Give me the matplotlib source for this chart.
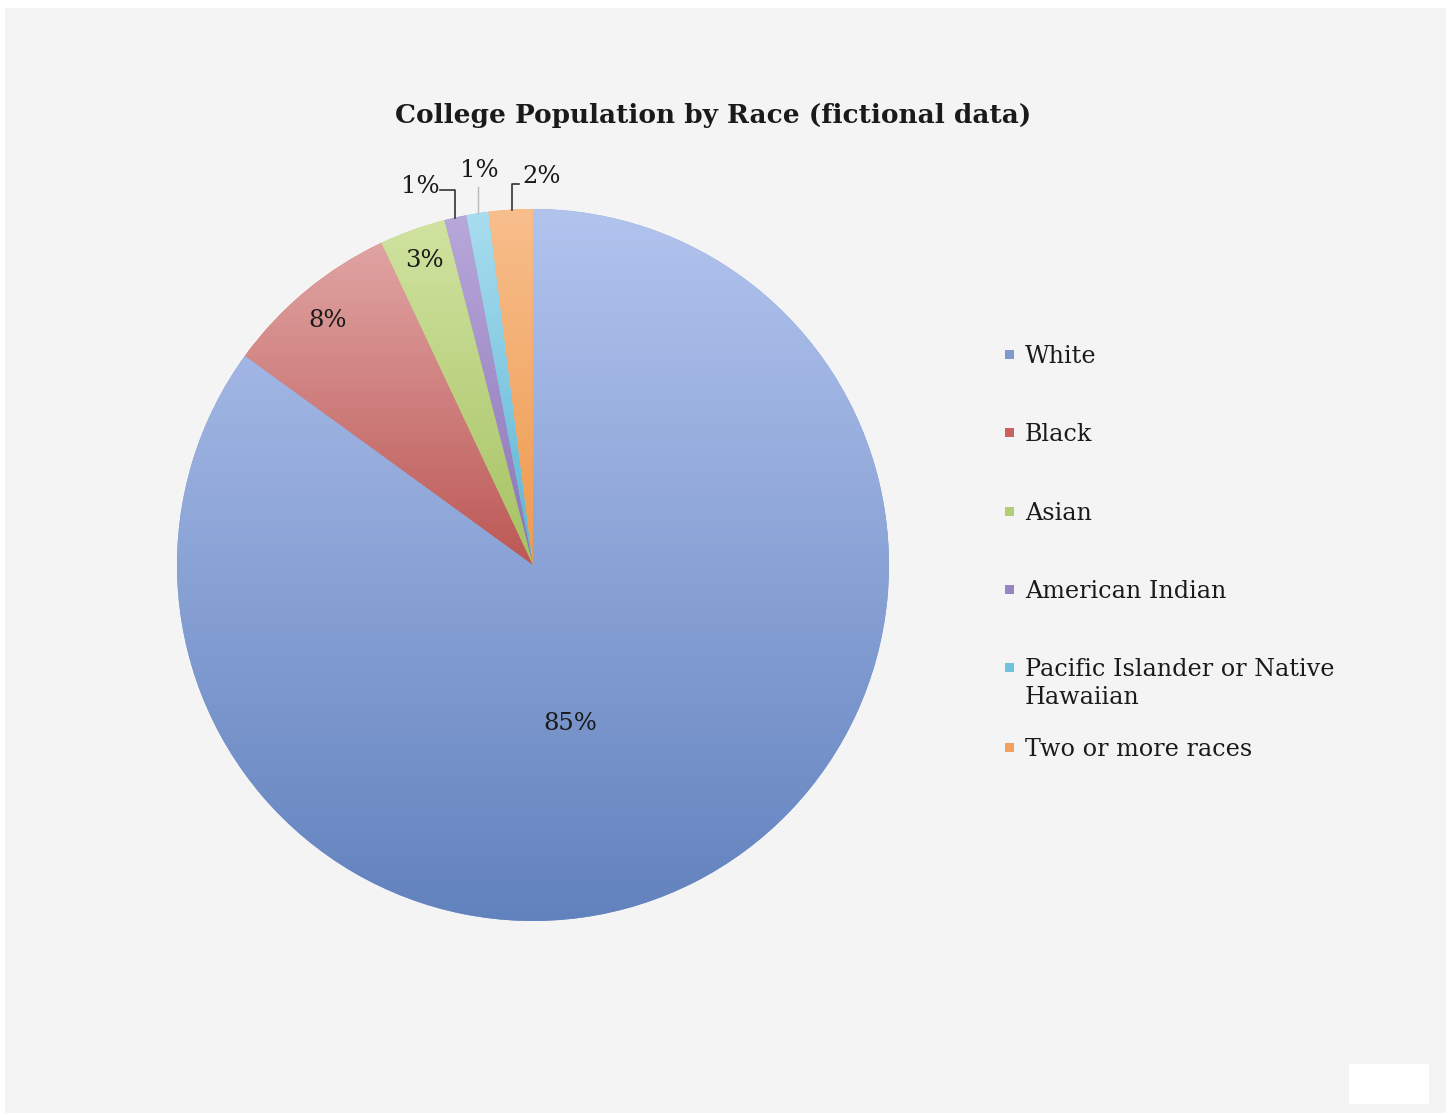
import numpy as np
import matplotlib
matplotlib.use("Agg")
import matplotlib.pyplot as plt
from matplotlib.colors import LinearSegmentedColormap
from matplotlib.patches import Rectangle

# data
categories = ["White", "Black", "Asian", "American Indian",
              "Pacific Islander or Native\nHawaiian", "Two or more races"]
shares = [85, 8, 3, 1, 1, 2]
pct_labels = ["85%", "8%", "3%", "1%", "1%", "2%"]

# gradient colours per slice (top, bottom)
top_colors = ["#B2C4EE", "#E0A4A3", "#D0E3A0", "#B8A8DA", "#A9DDEF", "#F8BE8C"]
bottom_colors = ["#6282BE", "#BC5855", "#A6C262", "#8A74B6", "#5AB5D3", "#EE9A4E"]
legend_colors = ["#7F98D2", "#C8615F", "#B3CD76", "#9884C2", "#6FC1DC", "#F2A060"]

plt.rcParams['font.family'] = ['DejaVu Serif']

W, H = 1449, 1115
fig = plt.figure(figsize=(W / 100, H / 100), dpi=100, facecolor="white")

# grey chart area and white box in the corner
fig.patches.append(Rectangle((5 / W, 1 - 1113 / H), 1441 / W, 1105 / H,
                             transform=fig.transFigure, facecolor="#F4F4F4",
                             edgecolor="none", zorder=-2))
fig.patches.append(Rectangle((1349 / W, 1 - 1104 / H), 80 / W, 40 / H,
                             transform=fig.transFigure, facecolor="white",
                             edgecolor="none", zorder=-1))

cx, cy, r = 533, 565, 356
ax = fig.add_axes([(cx - r) / W, (H - cy - r) / H, 2 * r / W, 2 * r / H])
ax.set_facecolor("none")

wedges, _ = ax.pie(shares, startangle=90, counterclock=False,
                   colors=legend_colors, wedgeprops=dict(linewidth=0))

grad = np.linspace(0, 1, 256).reshape(-1, 1)
for w, ctop, cbot in zip(wedges, top_colors, bottom_colors):
    bb = w.get_path().get_extents()
    cmap = LinearSegmentedColormap.from_list("g", [cbot, ctop])
    im = ax.imshow(grad, cmap=cmap, origin="lower", aspect="auto",
                   extent=(bb.x0, bb.x1, bb.y0, bb.y1), zorder=2)
    im.set_clip_path(w)

ax.set_xlim(-1, 1)
ax.set_ylim(-1, 1)
ax.set_aspect("equal")
ax.axis("off")

# percentage labels (layout positions in pie radius units)
label_pos = [(0.104, -0.444), (-0.576, 0.688), (-0.306, 0.854),
             (-0.317, 1.062), (-0.152, 1.107), (0.025, 1.090)]
for (x, y), t in zip(label_pos, pct_labels):
    ax.text(x, y, t, ha="center", va="center", fontsize=17.5,
            color="#1A1A1A", zorder=5, clip_on=False)

# leader lines for the small slices
ax.plot([-0.26, -0.218, -0.218], [1.053, 1.053, 0.975], color="#333333",
        lw=1.2, clip_on=False, zorder=5)
ax.plot([-0.154, -0.154], [1.062, 0.99], color="#BBBBBB", lw=1.0,
        clip_on=False, zorder=5)
ax.plot([-0.04, -0.059, -0.059], [1.07, 1.07, 0.998], color="#333333",
        lw=1.2, clip_on=False, zorder=5)

fig.text(713 / W, 1 - 116 / H, "College Population by Race (fictional data)",
         ha="center", va="center", fontsize=19, fontweight="bold",
         color="#1A1A1A")

# legend
legend_y = [355, 433, 512, 590, 668, 748]
for yy, name, col in zip(legend_y, categories, legend_colors):
    fig.patches.append(Rectangle((1005 / W, 1 - (yy + 4) / H), 9 / W, 9 / H,
                                 transform=fig.transFigure, facecolor=col,
                                 edgecolor="none", zorder=3))
    fig.text(1025 / W, 1 - (yy - 10) / H, name, ha="left", va="top",
             fontsize=17.2, color="#1A1A1A", linespacing=1.25)

fig.savefig("out.png", dpi=100, facecolor="white")
